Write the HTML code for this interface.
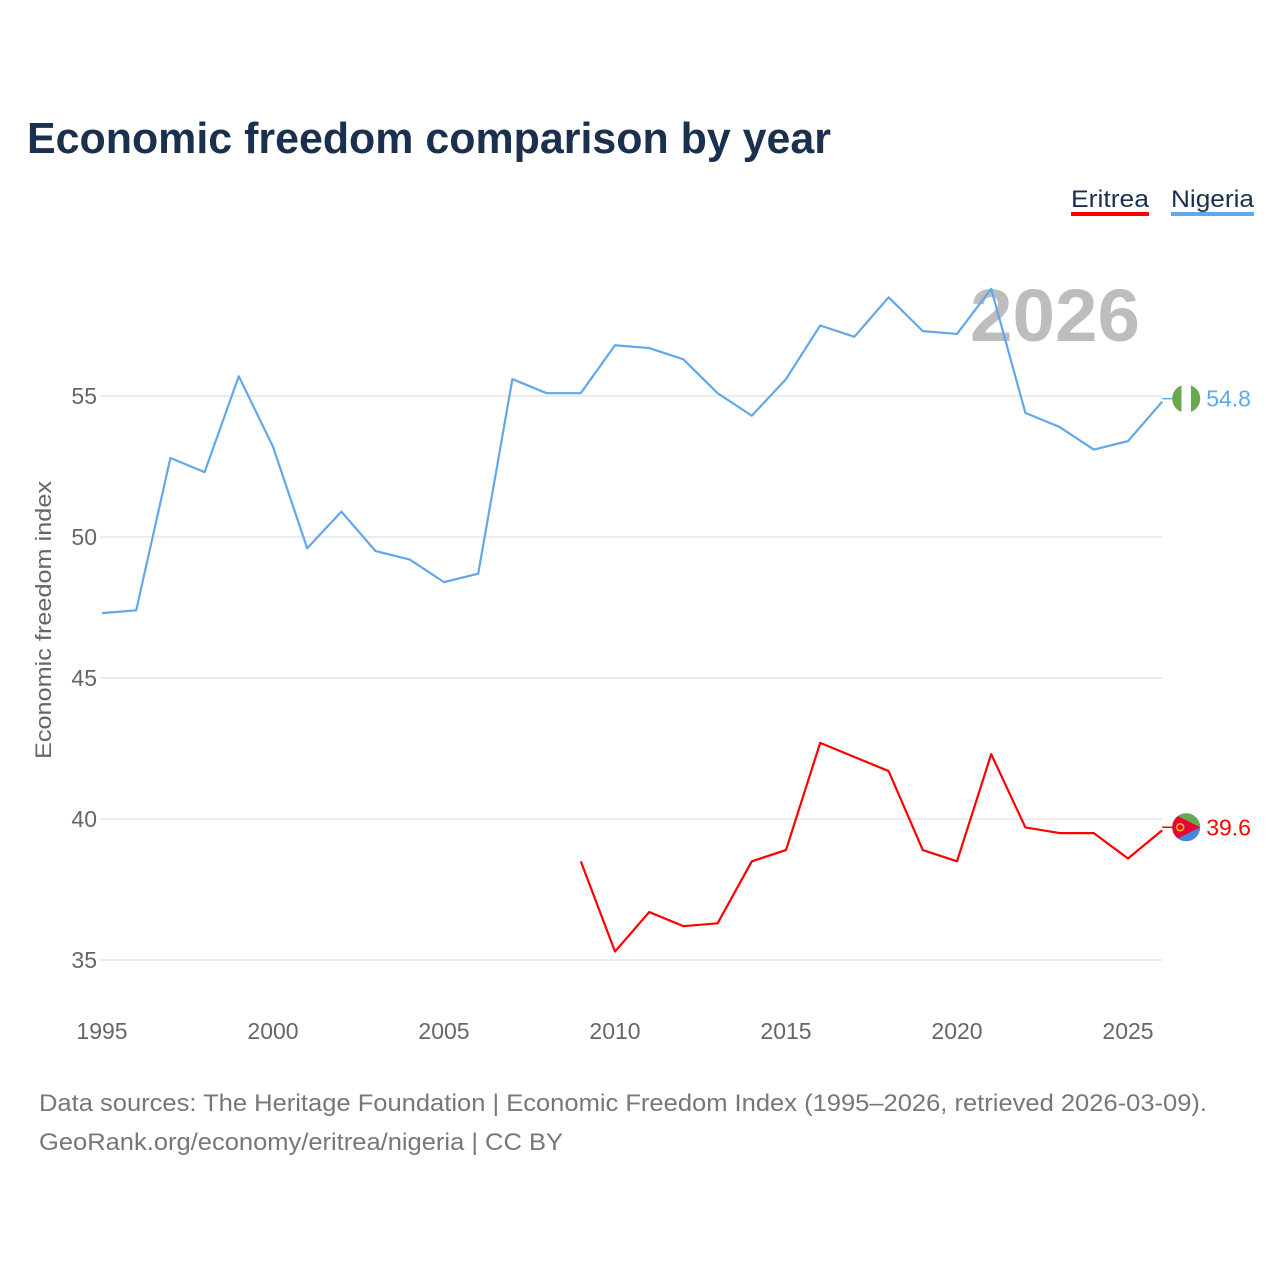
<!DOCTYPE html>
<html><head><meta charset="utf-8">
<style>
body{margin:0;background:#fff;font-family:"Liberation Sans",sans-serif;}
svg text{font-family:"Liberation Sans",sans-serif;}
</style></head>
<body>
<svg id="chart" width="1280" height="1280" viewBox="0 0 1280 1280" xmlns="http://www.w3.org/2000/svg">
<defs><clipPath id="ecl"><circle id="eclc" cx="0" cy="0" r="14"/></clipPath></defs>
<text x="27" y="153" font-size="44" font-weight="bold" fill="#1b2f4f" textLength="804" lengthAdjust="spacingAndGlyphs">Economic freedom comparison by year</text>
<g>
<text x="1071" y="207" font-size="24" fill="#1b2f4f" textLength="78" lengthAdjust="spacingAndGlyphs">Eritrea</text>
<rect x="1071" y="212" width="78" height="4" fill="#ff0000"/>
<text x="1171" y="207" font-size="24" fill="#1b2f4f" textLength="83" lengthAdjust="spacingAndGlyphs">Nigeria</text>
<rect x="1171" y="212" width="83" height="4" fill="#62a8e8"/>
</g>
<text x="1140" y="341" font-size="74" font-weight="bold" fill="#bdbdbd" text-anchor="end" textLength="170" lengthAdjust="spacingAndGlyphs">2026</text>
<text transform="translate(51,620) rotate(-90)" font-size="22" fill="#666" text-anchor="middle" textLength="278" lengthAdjust="spacingAndGlyphs">Economic freedom index</text>
<g id="grid"></g><g id="xt"></g><g id="lines"></g>
<text x="39" y="1111" font-size="24" fill="#777" textLength="1168" lengthAdjust="spacingAndGlyphs">Data sources: The Heritage Foundation | Economic Freedom Index (1995–2026, retrieved 2026-03-09).</text>
<text x="39" y="1150" font-size="24" fill="#777" textLength="524" lengthAdjust="spacingAndGlyphs">GeoRank.org/economy/eritrea/nigeria | CC BY</text>
</svg>
<script>
const yTicks=[35,40,45,50,55];
const xTicks=[1995,2000,2005,2010,2015,2020,2025];
const nigeriaYears=[1995,1996,1997,1998,1999,2000,2001,2002,2003,2004,2005,2006,2007,2008,2009,2010,2011,2012,2013,2014,2015,2016,2017,2018,2019,2020,2021,2022,2023,2024,2025,2026];
const nigeriaValues=[47.3,47.4,52.8,52.3,55.7,53.2,49.6,50.9,49.5,49.2,48.4,48.7,55.6,55.1,55.1,56.8,56.7,56.3,55.1,54.3,55.6,57.5,57.1,58.5,57.3,57.2,58.8,54.4,53.9,53.1,53.4,54.8];
const eritreaYears=[2009,2010,2011,2012,2013,2014,2015,2016,2017,2018,2019,2020,2021,2022,2023,2024,2025,2026];
const eritreaValues=[38.5,35.3,36.7,36.2,36.3,38.5,38.9,42.7,42.2,41.7,38.9,38.5,42.3,39.7,39.5,39.5,38.6,39.6];
const NS="http://www.w3.org/2000/svg";
const X=y=>102+(y-1995)*34.2;
const Y=v=>396-(v-55)*28.2;
function mk(t,a,p){const e=document.createElementNS(NS,t);for(const k in a)e.setAttribute(k,a[k]);p.appendChild(e);return e;}
const g=document.getElementById('grid');
yTicks.forEach(v=>{
 const l=mk('line',{x1:100,x2:1162,y1:Y(v),y2:Y(v),stroke:'#e6e6e6','stroke-width':1.5},g);
 
 
 const t=mk('text',{x:97,y:Y(v)+8,'font-size':23,fill:'#666','text-anchor':'end'},g);
 t.textContent=v;
 
 
});
const xt=document.getElementById('xt');
xTicks.forEach(v=>{
 const t=mk('text',{x:X(v),y:1039,'font-size':23,fill:'#666','text-anchor':'middle'},xt);
 t.textContent=v;
 
 
});
const L=document.getElementById('lines');
function series(name,ys,vs,color){
 const p=mk('polyline',{points:ys.map((y,i)=>X(y)+','+Y(vs[i])).join(' '),fill:'none',stroke:color,'stroke-width':2.2,'stroke-linejoin':'round'},L);
 
 
 const last=vs[vs.length-1],lx=X(ys[ys.length-1]),ly=Y(last)-3;
 const cx=lx+24;
 const s=mk('line',{x1:lx,x2:cx,y1:ly,y2:ly,stroke:color,'stroke-width':1.5},L);
 
 
 const c=mk('circle',{cx:cx,cy:ly,r:14,fill:name==='nigeria'?'#fff':'#4189dd'},L);
 
 
 if(name==='nigeria'){
  const a=mk('path',{d:`M${cx-4.7},${ly-13.2} A14,14 0 0 0 ${cx-4.7},${ly+13.2} Z`,fill:'#6aa84f'},L);
  
  const b=mk('path',{d:`M${cx+4.7},${ly-13.2} A14,14 0 0 1 ${cx+4.7},${ly+13.2} Z`,fill:'#6aa84f'},L);
  
 } else {
  const cc=document.getElementById('eclc');cc.setAttribute('cx',cx);cc.setAttribute('cy',ly);
  const fg=mk('g',{'clip-path':'url(#ecl)'},L);
  
  
  const a=mk('rect',{x:cx-14,y:ly-14,width:28,height:14,fill:'#6aa84f'},fg);
  
  const b=mk('path',{d:`M${cx-14},${ly-14} L${cx+14},${ly} L${cx-14},${ly+14} Z`,fill:'#ea0437'},fg);
  
  const e=mk('circle',{cx:cx-6,cy:ly,r:3.5,fill:'none',stroke:'#f7c600','stroke-width':1.5},fg);
  
 }
 const t=mk('text',{x:lx+44,y:ly+8,'font-size':23,fill:color},L);
 t.textContent=last.toFixed(1);
 
 
}
series('nigeria',nigeriaYears,nigeriaValues,'#62a8e8');
series('eritrea',eritreaYears,eritreaValues,'#ff0000');
</script>
</body></html>
